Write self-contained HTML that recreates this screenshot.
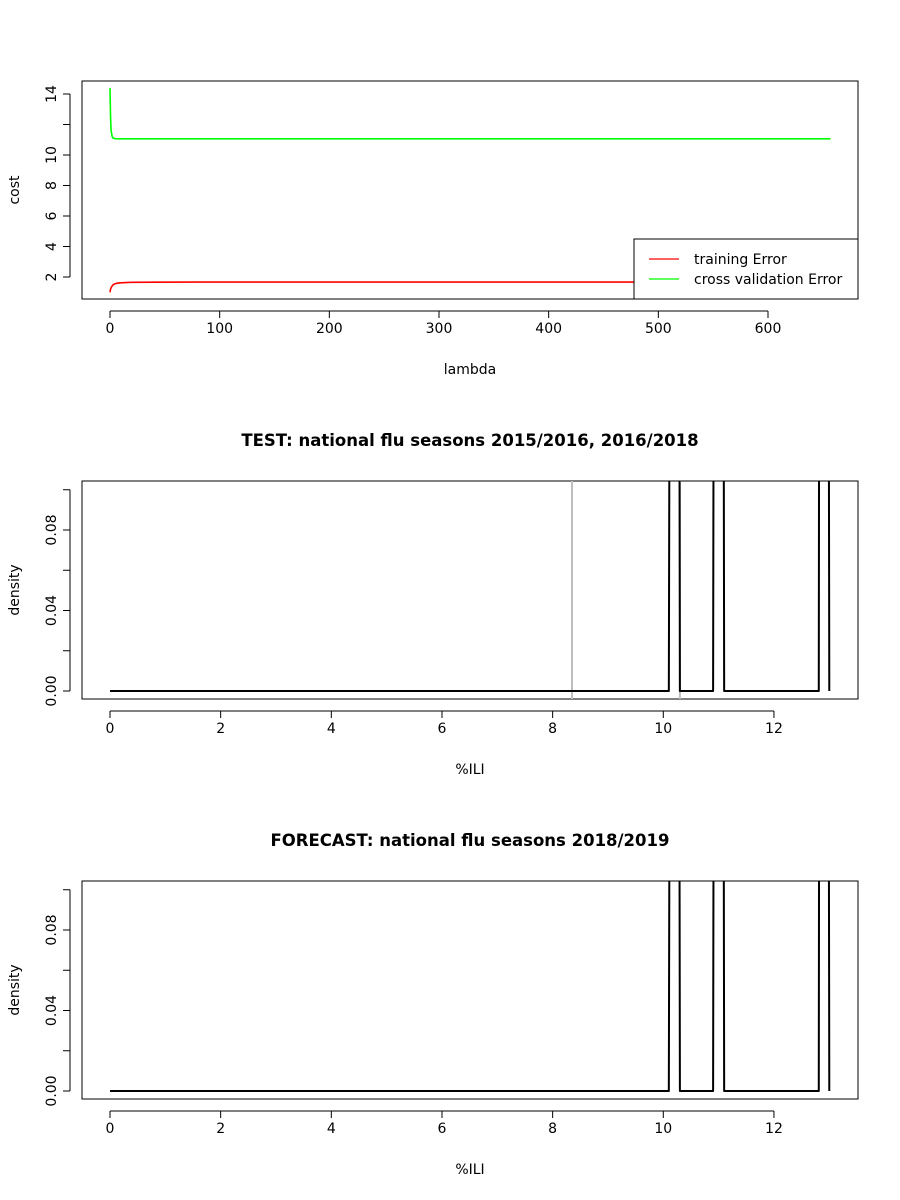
<!DOCTYPE html>
<html><head><meta charset="utf-8"><style>
body{margin:0;background:#fff}
svg{display:block;font-family:"DejaVu Sans","Liberation Sans",sans-serif}
</style></head><body>
<svg id="c" width="900" height="1200"></svg>
<script>
// Panel 1 data: cost vs lambda
const lambdaVals = [0,0.5,1,2,3,5,8,12,20,40,80,150,300,500,657];
const trainErr   = [1.0,1.2,1.3,1.42,1.5,1.57,1.61,1.63,1.65,1.66,1.67,1.67,1.67,1.67,1.67];
const cvErr      = [14.4,12.5,11.6,11.2,11.1,11.07,11.06,11.06,11.06,11.06,11.06,11.06,11.06,11.06,11.06];
const costTicks  = [2,4,6,8,10,12,14];
const costTickLabels = ["2","4","6","8","10","","14"];
const lambdaTicks = [0,100,200,300,400,500,600];
// Panels 2/3 data: density vs %ILI
const iliX   = [0,10.1,10.14,10.27,10.3,10.9,10.93,11.07,11.1,12.81,12.83,12.97,13.0];
const densTest = [0,0,0.5,0.5,0,0,0.5,0.5,0,0,0.5,0.5,0];
const densFcst = [0,0,0.5,0.5,0,0,0.5,0.5,0,0,0.5,0.5,0];
const greyLines = [8.35,10.3];
const densTicks = [0,0.02,0.04,0.06,0.08,0.10];
const densTickLabels = ["0.00","","0.04","","0.08",""];
const iliTicks = [0,2,4,6,8,10,12];

const svg=document.getElementById('c');
const NS='http://www.w3.org/2000/svg';
function mk(tag,attrs,parent){const e=document.createElementNS(NS,tag);for(const k in attrs)e.setAttribute(k,attrs[k]);(parent||svg).appendChild(e);return e;}
function txt(s,attrs){const t=mk('text',attrs);t.textContent=s;return t;}

function axes(top,xf,yf,xt,yt,ytl,xlab,ylab,name){
  const L=82,R=858,B=top+218;
  const box=mk('rect',{x:L,y:top,width:R-L,height:B-top,fill:'none',stroke:'#000','stroke-width':1});
  
  const g=mk('g',{});
  mk('line',{x1:xf(xt[0]),x2:xf(xt[xt.length-1]),y1:B+12,y2:B+12,stroke:'#000'},g);
  xt.forEach(v=>{mk('line',{x1:xf(v),x2:xf(v),y1:B+12,y2:B+19,stroke:'#000'},g);
    const t=mk('text',{x:xf(v),y:B+34,'font-size':14,'text-anchor':'middle'},g);t.textContent=v;});
  const gy=mk('g',{});
  mk('line',{x1:70,x2:70,y1:yf(yt[0]),y2:yf(yt[yt.length-1]),stroke:'#000'},gy);
  yt.forEach((v,i)=>{mk('line',{x1:63,x2:70,y1:yf(v),y2:yf(v),stroke:'#000'},gy);
    if(ytl[i]){const t=mk('text',{x:56,y:yf(v),'font-size':14,'text-anchor':'middle',transform:`rotate(-90 56 ${yf(v)})`},gy);t.textContent=ytl[i];}});
  const xl=txt(xlab,{x:470,y:B+75,'font-size':14,'text-anchor':'middle'});
  
  const cy=(top+B)/2;
  const yl=txt(ylab,{x:19,y:cy,'font-size':14,'text-anchor':'middle',transform:`rotate(-90 19 ${cy})`});
  
}
function path(xs,ys,xf,yf,color,name,clip,w){
  let d=xs.map((x,i)=>(i?'L':'M')+xf(x).toFixed(2)+' '+yf(ys[i]).toFixed(2)).join(' ');
  const p=mk('path',{d:d,fill:'none',stroke:color,'stroke-width':w||2,'stroke-linejoin':'round'});
  if(clip)p.setAttribute('clip-path',clip);
  
  return p;
}
const defs=mk('defs',{});
[481,881].forEach((t,i)=>{const cp=mk('clipPath',{id:'cp'+i},defs);mk('rect',{x:82,y:t,width:776,height:218},cp);});

// Panel 1
const x1=v=>110+v*(658/600), y1=v=>277-(v-2)*15.25;
axes(81,x1,y1,lambdaTicks,costTicks,costTickLabels,'lambda','cost','cost-panel');
path(lambdaVals,cvErr,x1,y1,'#00ff00','cv-error-line',null,1.6);
path(lambdaVals,trainErr,x1,y1,'#ff0000','training-error-line',null,1.6);
const lg=mk('g',{});
mk('rect',{x:634,y:239,width:224,height:60,fill:'#fff',stroke:'#000'},lg);
const le1=mk('g',{},lg);
mk('line',{x1:649,x2:679,y1:259,y2:259,stroke:'#ff0000','stroke-width':1.2},le1);
const lt1=mk('text',{x:694,y:264,'font-size':14},le1);lt1.textContent='training Error';
const le2=mk('g',{},lg);
mk('line',{x1:649,x2:679,y1:279,y2:279,stroke:'#00ff00','stroke-width':1.2},le2);
const lt2=mk('text',{x:694,y:284,'font-size':14},le2);lt2.textContent='cross validation Error';

// Panels 2 & 3
const xi=v=>110+v*55.33;
[[481,'TEST: national flu seasons 2015/2016, 2016/2018',densTest,'test',true],
 [881,'FORECAST: national flu seasons 2018/2019',densFcst,'forecast',false]].forEach((p,i)=>{
  const top=p[0], yd=v=>top+210-v*2012.5;
  const t=txt(p[1],{x:470,y:top-35,'font-size':16.5,'font-weight':'bold','text-anchor':'middle'});
  
  axes(top,xi,yd,iliTicks,densTicks,densTickLabels,'%ILI','density',p[3]+'-panel');
  if(p[4]) greyLines.forEach(v=>{const l=mk('line',{x1:xi(v),x2:xi(v),y1:top,y2:top+218,stroke:'#bebebe','stroke-width':2});
    });
  path(iliX,p[2],xi,yd,'#000',p[3]+'-density-line','url(#cp'+i+')');
});
</script>
</body></html>
